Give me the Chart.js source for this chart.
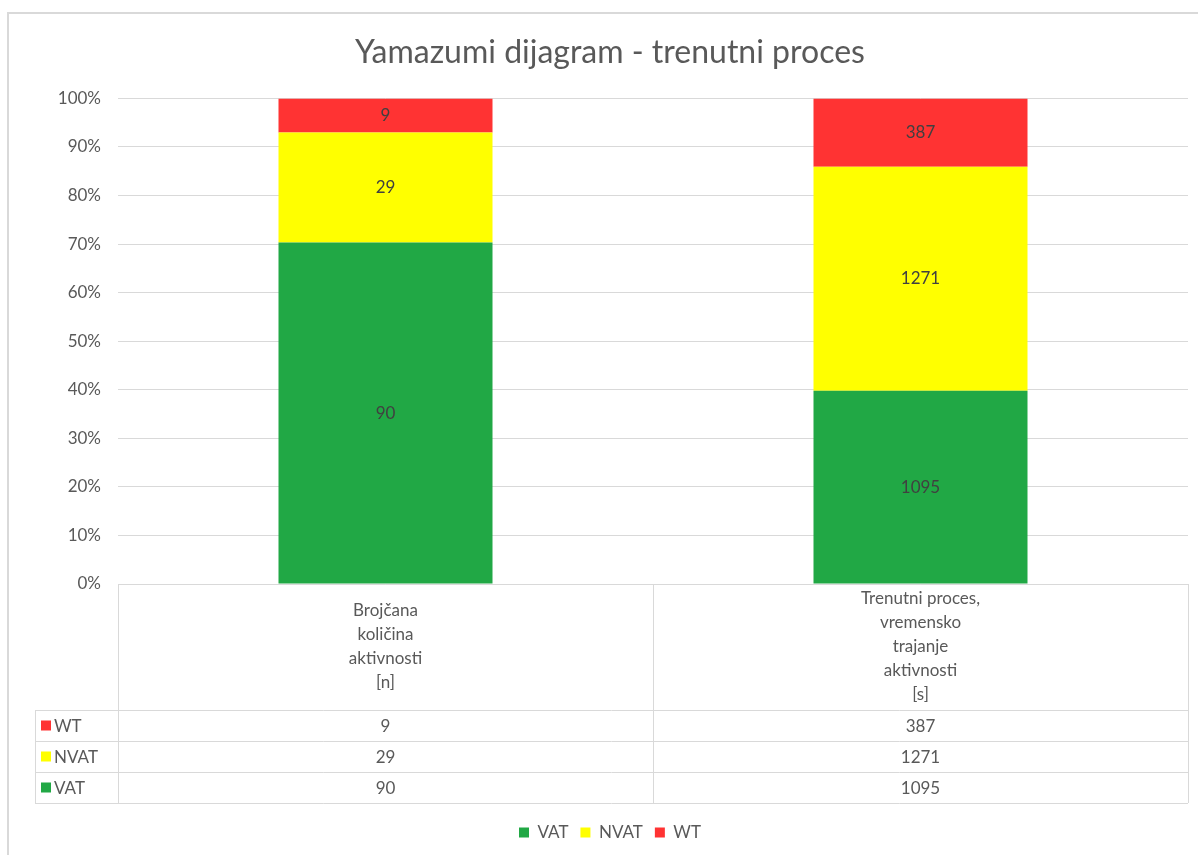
<!DOCTYPE html>
<html>
<head>
<meta charset="utf-8">
<script src="https://cdn.jsdelivr.net/npm/chart.js@4/dist/chart.umd.min.js"></script>
<style>
  html, body { margin: 0; padding: 0; background: #fff; }
  #wrap { width: 1198px; height: 855px; position: relative; }
</style>
</head>
<body>
<div id="wrap"><canvas id="yamazumi" width="1198" height="855"></canvas></div>
<script>
// --- podaci ---
const categories = [
  ['Brojčana', 'količina', 'aktivnosti', '[n]'],
  ['Trenutni proces,', 'vremensko', 'trajanje', 'aktivnosti', '[s]']
];
const seriesNames = ['VAT', 'NVAT', 'WT'];
const vatValues = [90, 1095];
const nvatValues = [29, 1271];
const wtValues = [9, 387];
const yTicks = [0, 10, 20, 30, 40, 50, 60, 70, 80, 90, 100];

const seriesColors = ['#21a845', '#ffff00', '#ff3333'];
const textColor = '#595959';
const lineColor = '#d9d9d9';
const fontFamily = "Lato, 'Open Sans', sans-serif";
const fontSize = 17;

const rawSeries = [vatValues, nvatValues, wtValues];
const totals = categories.map((c, i) => rawSeries.reduce((s, arr) => s + arr[i], 0));
const pctSeries = rawSeries.map(arr => arr.map((v, i) => v / totals[i] * 100));

// --- okvir ---
const framePlugin = {
  id: 'frame',
  beforeDraw(chart) {
    const ctx = chart.ctx;
    ctx.save();
    ctx.strokeStyle = lineColor;
    ctx.lineWidth = 2;
    ctx.beginPath();
    ctx.moveTo(8, 855);
    ctx.lineTo(8, 13);
    ctx.lineTo(1198, 13);
    ctx.stroke();
    ctx.restore();
  }
};

// --- oznake vrijednosti u stupcima ---
const valueLabels = {
  id: 'valueLabels',
  afterDatasetsDraw(chart) {
    const ctx = chart.ctx;
    ctx.save();
    ctx.font = fontSize + 'px ' + fontFamily;
    ctx.fillStyle = '#404040';
    ctx.textAlign = 'center';
    ctx.textBaseline = 'middle';
    chart.data.datasets.forEach((ds, di) => {
      chart.getDatasetMeta(di).data.forEach((bar, i) => {
        const p = bar.getProps(['x', 'y', 'base'], true);
        ctx.fillText(String(rawSeries[di][i]), p.x, (p.y + p.base) / 2);
      });
    });
    ctx.restore();
  }
};

// --- tablica podataka ---
const dataTable = {
  id: 'dataTable',
  afterDraw(chart) {
    const ctx = chart.ctx;
    const area = chart.chartArea;
    const xs = chart.scales.x;
    const left = area.left, right = area.right;
    const mid = (xs.getPixelForValue(0) + xs.getPixelForValue(1)) / 2;
    const top = area.bottom;
    const headerBottom = top + 126;
    const rowH = 31;
    const keyLeft = 35;
    const bottom = headerBottom + rowH * 3;

    ctx.save();
    ctx.strokeStyle = lineColor;
    ctx.lineWidth = 1;
    ctx.beginPath();
    ctx.moveTo(left, top + 0.5); ctx.lineTo(right, top + 0.5);
    [left, mid, right].forEach(x => {
      ctx.moveTo(Math.round(x) + 0.5, top); ctx.lineTo(Math.round(x) + 0.5, bottom);
    });
    for (let r = 0; r <= 3; r++) {
      const y = Math.round(headerBottom + r * rowH) + 0.5;
      ctx.moveTo(keyLeft, y); ctx.lineTo(right, y);
    }
    ctx.moveTo(keyLeft + 0.5, headerBottom); ctx.lineTo(keyLeft + 0.5, bottom);
    ctx.stroke();

    ctx.font = fontSize + 'px ' + fontFamily;
    ctx.fillStyle = textColor;
    ctx.textAlign = 'center';
    ctx.textBaseline = 'middle';
    const colCenters = [(left + mid) / 2, (mid + right) / 2];
    const lh = 24;
    categories.forEach((lines, i) => {
      const y0 = (top + headerBottom) / 2 - (lines.length - 1) * lh / 2;
      lines.forEach((t, k) => ctx.fillText(t, colCenters[i], y0 + k * lh));
    });

    // redovi: WT, NVAT, VAT
    const order = [2, 1, 0];
    order.forEach((si, r) => {
      const cy = headerBottom + r * rowH + rowH / 2;
      ctx.fillStyle = seriesColors[si];
      ctx.fillRect(keyLeft + 6, cy - 5, 10, 10);
      ctx.fillStyle = textColor;
      ctx.textAlign = 'left';
      ctx.fillText(seriesNames[si], keyLeft + 19, cy + 1);
      ctx.textAlign = 'center';
      rawSeries[si].forEach((v, i) => ctx.fillText(String(v), colCenters[i], cy + 1));
    });
    ctx.restore();
  }
};

new Chart(document.getElementById('yamazumi'), {
  type: 'bar',
  data: {
    labels: categories.map(c => c.join(' ')),
    datasets: seriesNames.map((name, i) => ({
      label: name,
      data: pctSeries[i],
      backgroundColor: seriesColors[i],
      borderWidth: 0,
      barPercentage: 0.4,
      categoryPercentage: 1
    }))
  },
  options: {
    responsive: false,
    animation: false,
    devicePixelRatio: 1,
    layout: { padding: { top: 20, right: 10, bottom: 4, left: 32 } },
    plugins: {
      title: {
        display: true,
        text: 'Yamazumi dijagram - trenutni proces',
        color: textColor,
        font: { family: fontFamily, size: 32, weight: 'normal' },
        padding: { top: 13, bottom: 27 }
      },
      legend: {
        position: 'bottom',
        labels: {
          color: textColor,
          font: { family: fontFamily, size: fontSize },
          boxWidth: 10,
          boxHeight: 10,
          padding: 12
        }
      },
      tooltip: { enabled: false }
    },
    scales: {
      x: {
        stacked: true,
        ticks: { display: false },
        grid: { display: false },
        border: { display: false },
        afterFit(scale) { scale.height = 228; }
      },
      y: {
        stacked: true,
        min: 0,
        max: 100,
        afterBuildTicks(scale) { scale.ticks = yTicks.map(v => ({ value: v })); },
        ticks: {
          color: textColor,
          font: { family: fontFamily, size: fontSize },
          padding: 17,
          callback: v => v + '%'
        },
        grid: { color: lineColor, drawTicks: false },
        border: { display: false },
        afterFit(scale) { scale.width = 86; }
      }
    }
  },
  plugins: [framePlugin, valueLabels, dataTable]
});
</script>
</body>
</html>
